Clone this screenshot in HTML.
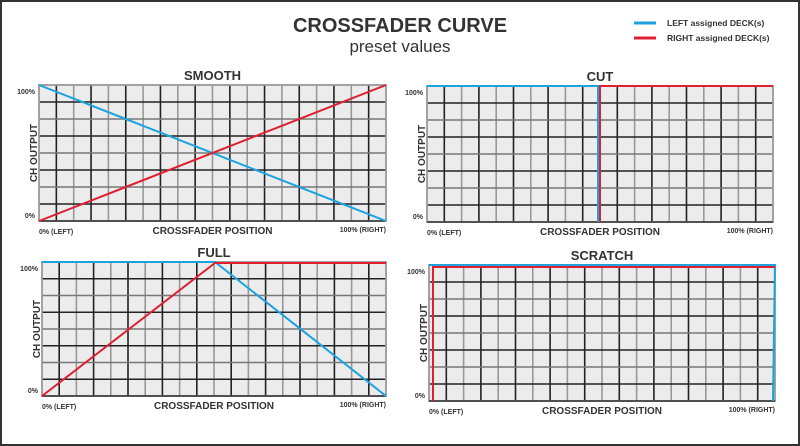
<!DOCTYPE html>
<html><head><meta charset="utf-8"><style>
html,body{margin:0;padding:0;background:#fff}
svg{display:block}
text{font-family:"Liberation Sans",Arial,sans-serif}
</style></head><body>
<svg id="s" width="800" height="446" viewBox="0 0 800 446" xmlns="http://www.w3.org/2000/svg">
<rect x="1" y="1" width="798" height="444" fill="#fff" stroke="#333" stroke-width="2"/>
<text x="400" y="32" text-anchor="middle" font-size="20" font-weight="bold" fill="#333">CROSSFADER CURVE</text>
<text x="400" y="52" text-anchor="middle" font-size="17" fill="#333">preset values</text>
<line x1="634" y1="23" x2="656" y2="23" stroke="#1ba3e0" stroke-width="3"/>
<line x1="634" y1="38" x2="656" y2="38" stroke="#e02030" stroke-width="3"/>
<text x="667" y="26" font-size="8.5" font-weight="bold" fill="#333">LEFT assigned DECK(s)</text>
<text x="667" y="41" font-size="8.5" font-weight="bold" fill="#333">RIGHT assigned DECK(s)</text>
<g id="g"></g>
</svg>
<script>
var g=document.getElementById('g'),h='';
function chart(t,x0,y0,x1,y1,series){
 var w=x1-x0,hh=y1-y0;
 h+='<text x="'+((x0+x1)/2)+'" y="'+(y0-5)+'" text-anchor="middle" font-size="13" font-weight="bold" fill="#333">'+t+'</text>';
 h+='<rect x="'+x0+'" y="'+y0+'" width="'+w+'" height="'+hh+'" fill="#ececec"/>';
 for(var k=1;k<20;k++){var x=x0+w*k/20;h+='<line x1="'+x+'" y1="'+y0+'" x2="'+x+'" y2="'+y1+'" stroke="'+(k%2?'#222':'#999')+'" stroke-width="1.6"/>';}
 for(var k=1;k<8;k++){var y=y0+hh*k/8;h+='<line x1="'+x0+'" y1="'+y+'" x2="'+x1+'" y2="'+y+'" stroke="'+(k%2?'#222':'#777')+'" stroke-width="1.4"/>';}
 h+='<rect x="'+x0+'" y="'+y0+'" width="'+w+'" height="'+hh+'" fill="none" stroke="#999" stroke-width="1.8"/>';
 h+='<line x1="'+x0+'" y1="'+y1+'" x2="'+x1+'" y2="'+y1+'" stroke="#333" stroke-width="1.5"/>';
 h+='<text x="'+(x0-4)+'" y="'+(y0+9)+'" text-anchor="end" font-size="7" font-weight="bold" fill="#333">100%</text>';
 h+='<text x="'+(x0-4)+'" y="'+(y1-3)+'" text-anchor="end" font-size="7" font-weight="bold" fill="#333">0%</text>';
 h+='<text x="'+x0+'" y="'+(y1+13)+'" font-size="7" font-weight="bold" fill="#333">0% (LEFT)</text>';
 h+='<text x="'+x1+'" y="'+(y1+11)+'" text-anchor="end" font-size="7" font-weight="bold" fill="#333">100% (RIGHT)</text>';
 h+='<text x="'+((x0+x1)/2)+'" y="'+(y1+13)+'" text-anchor="middle" font-size="10" font-weight="bold" fill="#333">CROSSFADER POSITION</text>';
 var cy=(y0+y1)/2;
 h+='<text transform="translate('+(x0-2)+','+cy+') rotate(-90)" text-anchor="middle" font-size="10" font-weight="bold" fill="#333">CH OUTPUT</text>';
 series.forEach(function(s){h+='<polyline points="'+s[1]+'" fill="none" stroke="'+s[0]+'" stroke-width="2"/>';});
}
var B='#1ba3e0',R='#e02030';
chart('SMOOTH',39,85,386,221,[[B,'39,85 386,221'],[R,'39,221 386,85']]);
chart('CUT',427,86,773,222,[[B,'427,86 598,86 598,222'],[R,'600,222 600,86 773,86']]);
chart('FULL',42,262,386,396,[[B,'42,262 215,262 386,396'],[R,'42,396 215,263 386,263']]);
chart('SCRATCH',429,265,775,401,[[B,'429,265 775,265 773,401'],[R,'433,401 433,267 775,267']]);
g.innerHTML=h;
</script>
</body></html>
